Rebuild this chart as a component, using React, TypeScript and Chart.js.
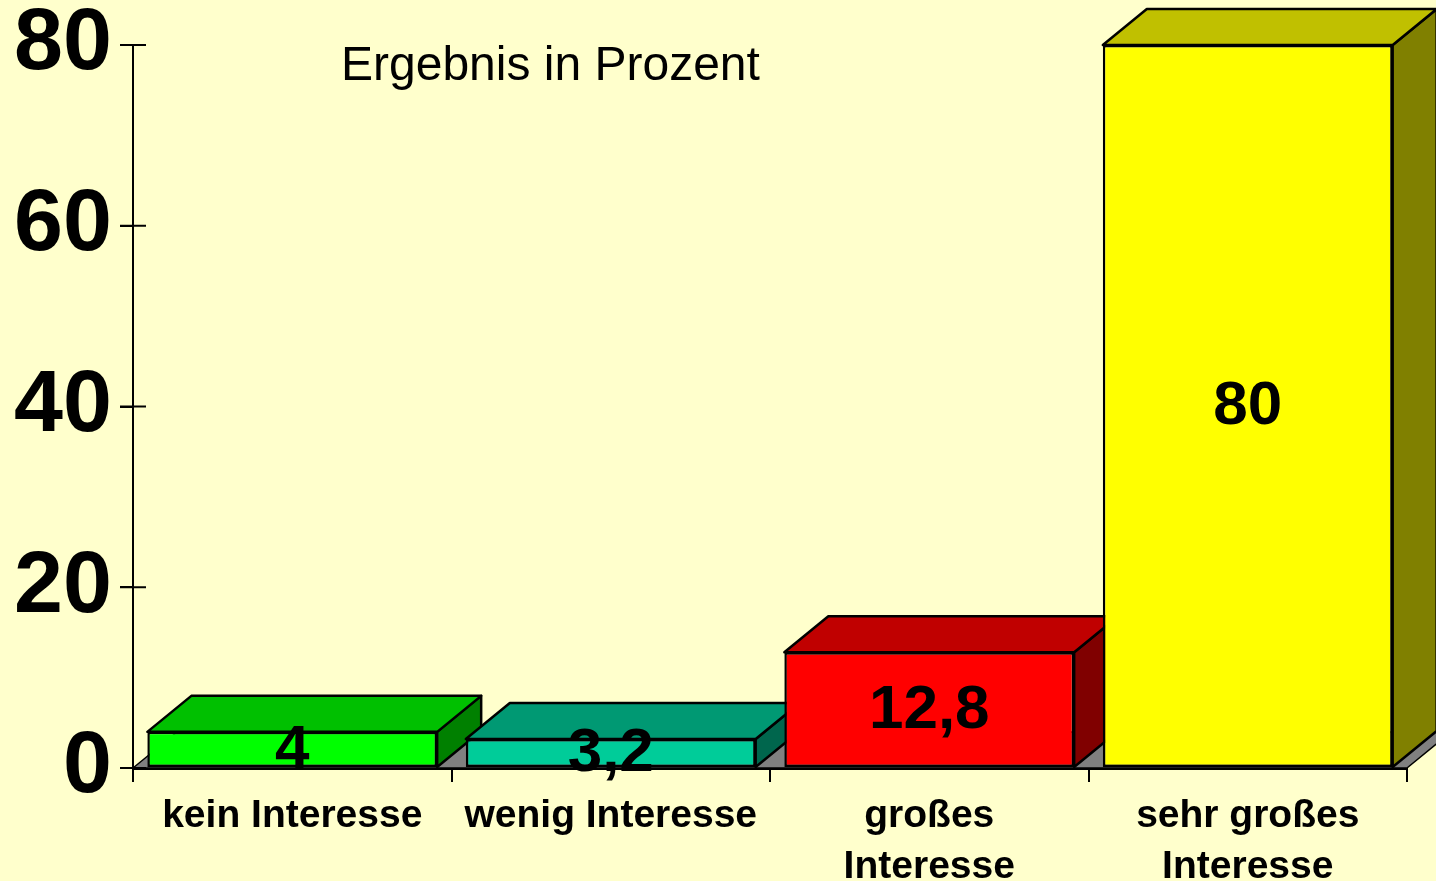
import { useEffect, useRef } from "react";
import { Chart, registerables } from "chart.js";

Chart.register(...registerables);

const categories: string[][] = [
  ["kein Interesse"],
  ["wenig Interesse"],
  ["großes", "Interesse"],
  ["sehr großes", "Interesse"],
];
const values: number[] = [4, 3.2, 12.8, 80];
const yTicks: number[] = [0, 20, 40, 60, 80];
const titleText = "Ergebnis in Prozent";

const frontColors = ["#00FF00", "#00CC99", "#FF0000", "#FFFF00"];
const topColors = ["#00C000", "#009973", "#C00000", "#C0C000"];
const sideColors = ["#008000", "#00664D", "#800000", "#808000"];

const FONT = '"Liberation Sans", Arial, Helvetica, sans-serif';
const DX = 44;
const DY = 36;

const bar3d: any = {
  id: "bar3d",
  beforeDraw(chart: any) {
    const ctx = chart.ctx;
    ctx.save();
    ctx.fillStyle = "#FFFFCC";
    ctx.fillRect(0, 0, chart.width, chart.height);
    ctx.restore();
  },
  beforeDatasetsDraw(chart: any) {
    const ctx = chart.ctx;
    const { left, right } = chart.chartArea;
    const base = chart.scales.y.getPixelForValue(0);
    ctx.save();
    ctx.lineJoin = "round";
    ctx.strokeStyle = "#000";
    ctx.lineWidth = 1.5;
    ctx.fillStyle = "#808080";
    ctx.beginPath();
    ctx.moveTo(left, base);
    ctx.lineTo(right, base);
    ctx.lineTo(right + DX, base - DY);
    ctx.lineTo(left + DX, base - DY);
    ctx.closePath();
    ctx.fill();
    ctx.stroke();
    const meta = chart.getDatasetMeta(0);
    meta.data.forEach((el: any, i: number) => {
      const { x, y, base: b, width } = el.getProps(["x", "y", "base", "width"], true);
      const x1 = x - width / 2;
      const x2 = x + width / 2;
      ctx.lineWidth = 2.5;
      ctx.fillStyle = sideColors[i];
      ctx.beginPath();
      ctx.moveTo(x2, y);
      ctx.lineTo(x2 + DX, y - DY);
      ctx.lineTo(x2 + DX, b - DY);
      ctx.lineTo(x2, b);
      ctx.closePath();
      ctx.fill();
      ctx.stroke();
      ctx.fillStyle = topColors[i];
      ctx.beginPath();
      ctx.moveTo(x1, y);
      ctx.lineTo(x1 + DX, y - DY);
      ctx.lineTo(x2 + DX, y - DY);
      ctx.lineTo(x2, y);
      ctx.closePath();
      ctx.fill();
      ctx.stroke();
    });
    ctx.restore();
  },
  afterDatasetsDraw(chart: any) {
    const ctx = chart.ctx;
    const meta = chart.getDatasetMeta(0);
    ctx.save();
    ctx.font = `bold 62px ${FONT}`;
    ctx.textAlign = "center";
    ctx.textBaseline = "middle";
    ctx.fillStyle = "#000";
    meta.data.forEach((el: any, i: number) => {
      const { x, y, base } = el.getProps(["x", "y", "base"], true);
      ctx.fillText(String(values[i]).replace(".", ","), x, (y + base) / 2 + 1);
    });
    ctx.restore();
  },
  afterDraw(chart: any) {
    const ctx = chart.ctx;
    const ys = chart.scales.y;
    const left = chart.chartArea.left;
    ctx.save();
    ctx.strokeStyle = "#000";
    ctx.lineWidth = 2;
    yTicks.forEach((v) => {
      const py = ys.getPixelForValue(v);
      ctx.beginPath();
      ctx.moveTo(left - 13, py);
      ctx.lineTo(left + 13, py);
      ctx.stroke();
    });
    ctx.font = `48px ${FONT}`;
    ctx.textAlign = "left";
    ctx.textBaseline = "alphabetic";
    ctx.fillStyle = "#000";
    ctx.fillText(titleText, 341, 80);
    ctx.restore();
  },
};

export default function App() {
  const ref = useRef<HTMLCanvasElement | null>(null);
  useEffect(() => {
    if (!ref.current) return;
    const chart = new Chart(ref.current, {
      type: "bar",
      data: {
        labels: categories as any,
        datasets: [
          {
            data: values,
            backgroundColor: frontColors,
            borderColor: "#000",
            borderWidth: 2.5,
            borderSkipped: false,
            barPercentage: 0.91,
            categoryPercentage: 1,
            clip: false as any,
          } as any,
        ],
      },
      options: {
        responsive: false,
        animation: false,
        layout: { padding: { top: 45, right: 29, left: 0, bottom: 0 } },
        plugins: {
          legend: { display: false },
          tooltip: { enabled: false },
          title: { display: false },
        },
        scales: {
          x: {
            type: "category",
            offset: true,
            z: 1,
            grid: {
              offset: true,
              drawOnChartArea: false,
              drawTicks: true,
              tickLength: 14,
              color: "#000",
              lineWidth: 2,
            },
            border: { display: true, color: "#000", width: 3 },
            ticks: {
              color: "#000",
              font: { family: FONT, size: 39, weight: "bold", lineHeight: 1.31 },
              padding: 9,
              maxRotation: 0,
              autoSkip: false,
            },
            afterFit: (s: any) => {
              s.height = 113;
            },
          } as any,
          y: {
            min: 0,
            max: 80,
            grid: { drawOnChartArea: false, tickLength: 13, color: "#000", lineWidth: 2 },
            border: { display: true, color: "#000", width: 2 },
            ticks: {
              color: "#000",
              font: { family: FONT, size: 88, weight: "bold", lineHeight: 0.8 },
              padding: 8,
            },
            afterBuildTicks: (s: any) => {
              s.ticks = yTicks.map((v) => ({ value: v }));
            },
            afterFit: (s: any) => {
              s.width = 133;
            },
          } as any,
        },
      },
      plugins: [bar3d],
    });
    return () => chart.destroy();
  }, []);
  return (
    <div
      style={{
        position: "fixed",
        left: 0,
        top: 0,
        width: 1436,
        height: 881,
        background: "#FFFFCC",
        overflow: "hidden",
      }}
    >
      <canvas ref={ref} width={1436} height={881} style={{ display: "block" }} />
    </div>
  );
}
